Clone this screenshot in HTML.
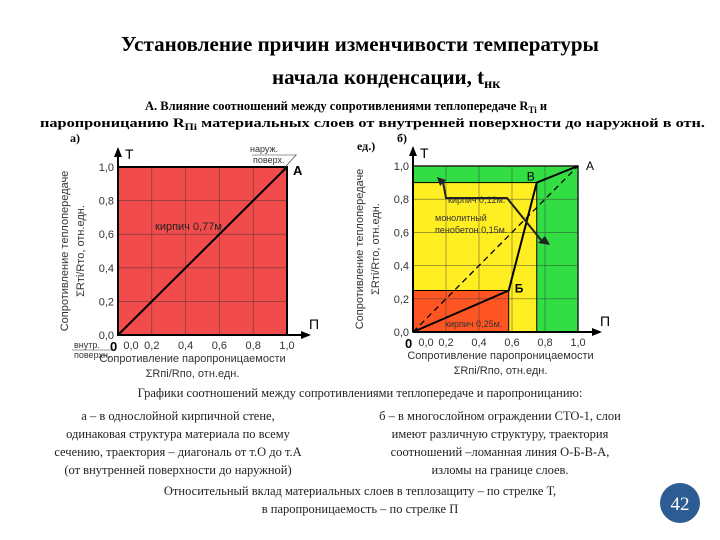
<!DOCTYPE html>
<html><head><meta charset="utf-8"><style>
body{margin:0;background:#fff}
svg{display:block}
.s{font-family:"Liberation Serif","DejaVu Serif",serif}
.a{font-family:"Liberation Sans","DejaVu Sans",sans-serif}
</style></head><body>
<svg id="c" width="720" height="540" viewBox="0 0 720 540" xmlns="http://www.w3.org/2000/svg">
<text class="s" x="360" y="51" text-anchor="middle" font-size="21" font-weight="bold">Установление причин изменчивости температуры</text>
<text class="s" x="272" y="84" font-size="21" font-weight="bold">начала конденсации, t<tspan font-size="14" dy="4">нк</tspan></text>
<text class="s" x="145" y="110" font-size="12.5" font-weight="bold">А. Влияние соотношений между сопротивлениями теплопередаче R<tspan font-size="9" dy="3">Ti</tspan><tspan dy="-3"> и</tspan></text>
<text class="s" x="40" y="127" font-size="12.5" font-weight="bold" textLength="665" lengthAdjust="spacingAndGlyphs">паропроницанию R<tspan font-size="9" dy="3">Пi</tspan><tspan dy="-3">  материальных слоев от внутренней поверхности до наружной в отн.</tspan></text>
<text class="s" x="70" y="142" font-size="12" font-weight="bold">а)</text>
<text class="s" x="357" y="150" font-size="12" font-weight="bold">ед.)</text>
<text class="s" x="397" y="142" font-size="12" font-weight="bold">б)</text>
<g id="gA"></g>
<g id="gB"></g>
<g class="s" font-size="12.5" fill="#222" text-anchor="middle">
<text x="360" y="397">Графики соотношений между сопротивлениями теплопередаче и паропроницанию:</text>
<text x="178" y="420">а – в однослойной кирпичной стене,</text>
<text x="178" y="438">одинаковая структура материала по всему</text>
<text x="178" y="456">сечению, траектория – диагональ от т.О до т.А</text>
<text x="178" y="474">(от внутренней поверхности до наружной)</text>
<text x="500" y="420">б – в многослойном ограждении СТО-1, слои</text>
<text x="500" y="438">имеют различную структуру, траектория</text>
<text x="500" y="456">соотношений –ломанная линия О-Б-В-А,</text>
<text x="500" y="474">изломы на границе слоев.</text>
<text x="360" y="495">Относительный вклад материальных слоев в теплозащиту – по стрелке Т,</text>
<text x="360" y="513">в паропроницаемость – по стрелке П</text>
</g>
<circle cx="680" cy="503" r="20" fill="#2d5c93"/>
<text class="s" x="680" y="510" text-anchor="middle" font-size="19" fill="#fff">42</text>
</svg>
<script>
const ticks=[0,0.2,0.4,0.6,0.8,1.0];
const tickLabels=["0,0","0,2","0,4","0,6","0,8","1,0"];
const pathA_x=[0,1];
const pathA_y=[0,1];
const pathB_x=[0,0.58,0.75,1];
const pathB_y=[0,0.25,0.9,1];
const pathBNames=["","Б","В","А"];
const layerB_x=[1,0.75,0.58];
const layerB_y=[1,0.9,0.25];
const layerB_col=["#33dd44","#ffee22","#ff5522"];
const NS="http://www.w3.org/2000/svg";
function mk(p,t,a){const e=document.createElementNS(NS,t);for(const k in a)e.setAttribute(k,a[k]);p.appendChild(e);return e;}
function chart(g,x0,x1,y0,y1,opt){
 const sx=v=>x0+v*(x1-x0), sy=v=>y0-v*(y0-y1);
 if(opt.layers){opt.layers.x.forEach((lx,i)=>{const r=mk(g,'rect',{x:sx(0),y:sy(opt.layers.y[i]),width:sx(lx)-sx(0),height:sy(0)-sy(opt.layers.y[i]),fill:opt.layers.c[i],stroke:'#000','stroke-width':1});
 
 });
 mk(g,'rect',{x:sx(0),y:sy(1),width:sx(1)-sx(0),height:sy(0)-sy(1),fill:'none',stroke:'#222','stroke-width':1.5});}
 else{const r=mk(g,'rect',{x:sx(0),y:sy(1),width:sx(1)-sx(0),height:sy(0)-sy(1),fill:'#f24b4b',stroke:'#000','stroke-width':2});
 
 }
 ticks.forEach((t,i)=>{
  if(t>0&&t<1){mk(g,'line',{x1:sx(t),x2:sx(t),y1:sy(0),y2:sy(1),stroke:'#333','stroke-width':0.6,opacity:0.7});
  mk(g,'line',{x1:sx(0),x2:sx(1),y1:sy(t),y2:sy(t),stroke:'#333','stroke-width':0.6,opacity:0.7});}
  const yl=mk(g,'text',{x:sx(0)-4,y:sy(t)+4,'text-anchor':'end','font-size':11,class:'a',fill:'#333'});yl.textContent=tickLabels[i];
  
  
  const xl=mk(g,'text',{x:sx(t)+(i==0?13:0),y:sy(0)+14,'text-anchor':'middle','font-size':11,class:'a',fill:'#333'});xl.textContent=tickLabels[i];
  
  
 });
 mk(g,'line',{x1:sx(0),y1:sy(0),x2:sx(0),y2:sy(1)-18,stroke:'#000','stroke-width':2});
 mk(g,'path',{d:`M${sx(0)-4},${sy(1)-10} L${sx(0)},${sy(1)-20} L${sx(0)+4},${sy(1)-10}Z`,fill:'#000'});
 mk(g,'line',{x1:sx(0),y1:sy(0),x2:sx(1)+22,y2:sy(0),stroke:'#000','stroke-width':2});
 mk(g,'path',{d:`M${sx(1)+14},${sy(0)-4} L${sx(1)+24},${sy(0)} L${sx(1)+14},${sy(0)+4}Z`,fill:'#000'});
 let t=mk(g,'text',{x:sx(0)+7,y:sy(1)-8,'font-size':14,class:'a'});t.textContent='T';
 t=mk(g,'text',{x:sx(1)+22,y:sy(0)-6,'font-size':14,class:'a'});t.textContent='П';
 t=mk(g,'text',{x:sx(0)-8,y:sy(0)+16,'font-size':13,'font-weight':'bold',class:'a'});t.textContent='0';
 const cy=(sy(0)+sy(1))/2;
 t=mk(g,'text',{x:0,y:0,transform:`translate(${x0-50},${cy}) rotate(-90)`,'text-anchor':'middle','font-size':11,class:'a',fill:'#333'});t.textContent='Сопротивление теплопередаче';
 
 
 t=mk(g,'text',{x:0,y:0,transform:`translate(${x0-34},${cy}) rotate(-90)`,'text-anchor':'middle','font-size':11,class:'a',fill:'#333'});t.textContent='ΣRтi/Rто, отн.едн.';
 t=mk(g,'text',{x:(sx(0)+sx(1))/2+opt.xt,y:sy(0)+27,'text-anchor':'middle','font-size':11,class:'a',fill:'#333'});t.textContent='Сопротивление паропроницаемости';
 
 
 t=mk(g,'text',{x:(sx(0)+sx(1))/2+opt.xt,y:sy(0)+42,'text-anchor':'middle','font-size':11,class:'a',fill:'#333'});t.textContent='ΣRпi/Rпо, отн.едн.';
 return {sx,sy};
}
const A=chart(document.getElementById('gA'),118,287,335,167,{xt:-10});
const gA=document.getElementById('gA');
let pts=pathA_x.map((v,i)=>A.sx(v)+','+A.sy(pathA_y[i])).join(' ');
let pl=mk(gA,'polyline',{points:pts,fill:'none',stroke:'#000','stroke-width':2});


let tx=mk(gA,'text',{x:155,y:230,'font-size':11,class:'a',fill:'#222'});tx.textContent='кирпич 0,77м.';
tx=mk(gA,'text',{x:A.sx(1)+6,y:A.sy(1)+8,'font-size':13,'font-weight':'bold',class:'a'});tx.textContent='А';
tx=mk(gA,'text',{x:250,y:152,'font-size':9,class:'a',fill:'#333'});tx.textContent='наруж.';
tx=mk(gA,'text',{x:253,y:163,'font-size':9,class:'a',fill:'#333'});tx.textContent='поверх.';
mk(gA,'line',{x1:252,y1:155,x2:297,y2:155,stroke:'#333','stroke-width':0.6});
mk(gA,'line',{x1:278,y1:175,x2:296,y2:155,stroke:'#333','stroke-width':0.6});
tx=mk(gA,'text',{x:74,y:348,'font-size':9,class:'a',fill:'#333'});tx.textContent='внутр.';
tx=mk(gA,'text',{x:74,y:358,'font-size':9,class:'a',fill:'#333'});tx.textContent='поверхн.';
mk(gA,'line',{x1:72,y1:350,x2:112,y2:350,stroke:'#333','stroke-width':0.6});

const gB=document.getElementById('gB');
const B=chart(gB,413,578,332,166,{layers:{x:layerB_x,y:layerB_y,c:layerB_col},xt:5});
mk(gB,'line',{x1:B.sx(0),y1:B.sy(0),x2:B.sx(1),y2:B.sy(1),stroke:'#000','stroke-width':1.3,'stroke-dasharray':'6,4'});
pts=pathB_x.map((v,i)=>B.sx(v)+','+B.sy(pathB_y[i])).join(' ');
pl=mk(gB,'polyline',{points:pts,fill:'none',stroke:'#000','stroke-width':2});


pathBNames.forEach((n,i)=>{if(!n)return;const off=[0,[6,2],[-10,-2],[8,4]][i];
 const t=mk(gB,'text',{x:B.sx(pathB_x[i])+off[0],y:B.sy(pathB_y[i])+off[1],'font-size':12,class:'a','font-weight':i==1?'bold':'normal'});t.textContent=n;
 
 });
[['кирпич 0,12м.',448,203],['монолитный',435,221],['пенобетон 0,15м.',435,233],['кирпич 0,25м.',445,327]].forEach(a=>{const t=mk(gB,'text',{x:a[1],y:a[2],'font-size':9,class:'a',fill:'#333'});t.textContent=a[0];});
mk(gB,'polyline',{points:'443,182 446,198 507,198 541,240',fill:'none',stroke:'#222','stroke-width':2});
mk(gB,'path',{d:'M437,177 L446,180 L440,186Z',fill:'#222'});
mk(gB,'path',{d:'M550,245 L538,243 L545,236Z',fill:'#222'});
</script>
</body></html>
